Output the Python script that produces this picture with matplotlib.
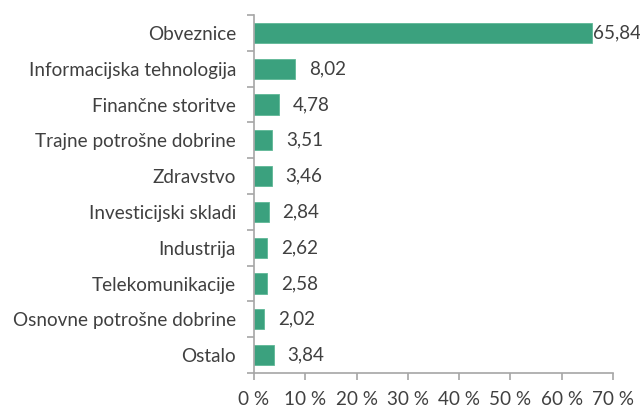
import matplotlib
matplotlib.use("Agg")
import matplotlib.pyplot as plt
import numpy as np

categories = ["Obveznice", "Informacijska tehnologija", "Finančne storitve",
              "Trajne potrošne dobrine", "Zdravstvo", "Investicijski skladi",
              "Industrija", "Telekomunikacije", "Osnovne potrošne dobrine", "Ostalo"]
values = [65.84, 8.02, 4.78, 3.51, 3.46, 2.84, 2.62, 2.58, 2.02, 3.84]
labels = ["65,84", "8,02", "4,78", "3,51", "3,46", "2,84", "2,62", "2,58", "2,02", "3,84"]
xticks = [0, 10, 20, 30, 40, 50, 60, 70]
xticklabels = [f"{t} %" for t in xticks]

plt.rcParams['font.family'] = ['Lato', 'DejaVu Sans']
text_color = "#404040"
axis_color = "#a6a6a6"
bar_color = "#3ba17e"
fs = 13.6

fig = plt.figure(figsize=(6.4, 4.07), dpi=100)
ax = fig.add_axes([254/640, 1-373/407, (613-254)/640, (373-15)/407])

y = np.arange(len(categories))
ax.barh(y, values, height=0.56, color=bar_color, edgecolor="#5fb896", linewidth=0.6)
ax.set_ylim(len(categories)-0.5, -0.5)
ax.set_xlim(0, 70)

for i, (v, lab) in enumerate(zip(values, labels)):
    off = 1.0 if v > 60 else 10
    ax.annotate(lab, (v, i), xytext=(off, 0), textcoords="offset points",
                va="center", ha="left", fontsize=fs, color=text_color)

ax.set_yticks(y)
ax.set_yticklabels(categories, fontsize=fs, color=text_color)
ax.set_yticks(np.arange(len(categories)+1)-0.5, minor=True)
ax.tick_params(axis="y", which="major", length=0, pad=13)
ax.tick_params(axis="y", which="minor", length=5, color=axis_color, width=1.2)
ax.set_xticks(xticks)
ax.set_xticklabels(xticklabels, fontsize=fs, color=text_color)
ax.tick_params(axis="x", length=5, color=axis_color, width=1.2, pad=8)

for s in ["top", "right"]:
    ax.spines[s].set_visible(False)
for s in ["left", "bottom"]:
    ax.spines[s].set_color(axis_color)
    ax.spines[s].set_linewidth(1.2)

fig.savefig("out.png", dpi=100, facecolor="white")
